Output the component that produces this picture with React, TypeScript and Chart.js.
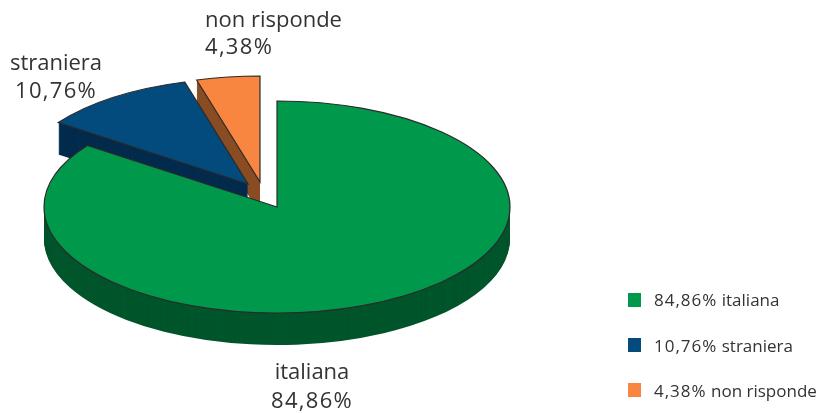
import React, { useEffect, useRef } from "react";
import { Chart, registerables } from "chart.js";

Chart.register(...registerables);

// Survey shares, clockwise from twelve o'clock
const categories = ["italiana", "straniera", "non risponde"];
const shares = [84.86, 10.76, 4.38];

const faceColours = ["#00994c", "#034b7d", "#f88540"];
const wallColours = ["#00552b", "#032b4d", "#8a4c23"];

const fmt = (v: number) => v.toFixed(2).replace(".", ",") + "%";
const FONT = '"Open Sans", sans-serif';
const INK = "#333333";

// Tilted disc geometry in canvas pixels
const disc = {
  rx: 233,
  ry: 106,
  depth: 32,
  explode: [
    [0, 0],
    [-29, -23],
    [-17, -25],
  ],
};

const labelPlacement = [
  { x: 312, nameY: 373, valueY: 402, align: "center" },
  { x: 56, nameY: 64, valueY: 92, align: "center" },
  { x: 205, nameY: 21, valueY: 48, align: "left" },
];
const legendPlacement = {
  swatchX: 628,
  textX: 654,
  swatchRows: [300, 345, 390],
  textRows: [301.5, 347, 392],
  swatch: 14,
};

const tiltedPie = {
  id: "tiltedPie",
  beforeDatasetsDraw(chart: any) {
    const ctx = chart.ctx;
    const arcs = chart.getDatasetMeta(0).data;
    for (let i = arcs.length - 1; i >= 0; i--) {
      const arc = arcs[i];
      const { x, y, outerRadius, startAngle, endAngle } = arc.getProps(
        ["x", "y", "outerRadius", "startAngle", "endAngle"],
        true
      );
      const sx = disc.rx / outerRadius;
      const sy = disc.ry / outerRadius;
      const [dx, dy] = disc.explode[i];
      const place = (shift: number) => {
        ctx.translate(x + dx, y + dy + shift);
        ctx.scale(sx, sy);
        ctx.translate(-x, -y);
      };

      // Side wall: the same sector repeated downwards in the dark colour
      const faceOptions = arc.options;
      arc.options = Object.assign(Object.create(faceOptions), {
        backgroundColor: wallColours[i],
      });
      for (let s = disc.depth; s >= 1; s--) {
        ctx.save();
        place(s);
        arc.draw(ctx);
        ctx.restore();
      }
      arc.options = faceOptions;

      // Top face
      ctx.save();
      place(0);
      arc.draw(ctx);
      ctx.restore();

      // Outline is stroked untransformed so its width stays even around the ellipse
      ctx.save();
      ctx.beginPath();
      ctx.save();
      place(0);
      ctx.moveTo(x, y);
      ctx.arc(x, y, outerRadius, startAngle, endAngle);
      ctx.closePath();
      ctx.restore();
      ctx.strokeStyle = "#2b2b2b";
      ctx.lineWidth = 1.2;
      ctx.lineJoin = "miter";
      ctx.stroke();
      ctx.restore();
    }
    return false;
  },
  afterDraw(chart: any) {
    const ctx = chart.ctx;
    ctx.save();
    ctx.fillStyle = INK;
    ctx.textBaseline = "middle";

    // Callouts next to the slices
    ctx.font = `22px ${FONT}`;
    categories.forEach((name, i) => {
      const p = labelPlacement[i];
      ctx.textAlign = p.align;
      ctx.letterSpacing = "0px";
      ctx.fillText(name, p.x, p.nameY);
      ctx.letterSpacing = "1.3px";
      ctx.fillText(fmt(shares[i]), p.x, p.valueY);
    });

    // Legend
    ctx.font = `17px ${FONT}`;
    ctx.textAlign = "left";
    categories.forEach((name, i) => {
      const cy = legendPlacement.textRows[i];
      ctx.fillStyle = faceColours[i];
      ctx.fillRect(
        legendPlacement.swatchX,
        legendPlacement.swatchRows[i] - legendPlacement.swatch / 2,
        legendPlacement.swatch - 1,
        legendPlacement.swatch
      );
      ctx.fillStyle = INK;
      const value = fmt(shares[i]);
      ctx.letterSpacing = "1px";
      ctx.fillText(value, legendPlacement.textX, cy);
      const used = ctx.measureText(value).width;
      ctx.letterSpacing = "0px";
      const gap = ctx.measureText(" ").width;
      ctx.fillText(name, legendPlacement.textX + used + gap, cy);
    });
    ctx.restore();
  },
};

export default function App() {
  const canvasRef = useRef<HTMLCanvasElement>(null);

  useEffect(() => {
    const chart = new Chart(canvasRef.current!, {
      type: "pie",
      data: {
        labels: categories,
        datasets: [{ data: shares, backgroundColor: faceColours, borderWidth: 0 }],
      },
      options: {
        animation: false,
        responsive: false,
        rotation: 0,
        // Centres the pie's own box on the disc's centre
        layout: { padding: { left: 77, right: 346, top: 7, bottom: 6 } },
        plugins: { legend: { display: false }, tooltip: { enabled: false } },
      },
      plugins: [tiltedPie],
    } as any);
    return () => chart.destroy();
  }, []);

  return (
    <div style={{ position: "fixed", left: 0, top: 0, width: 823, height: 413, background: "#fff" }}>
      <canvas ref={canvasRef} width={823} height={413} style={{ display: "block" }} />
    </div>
  );
}
